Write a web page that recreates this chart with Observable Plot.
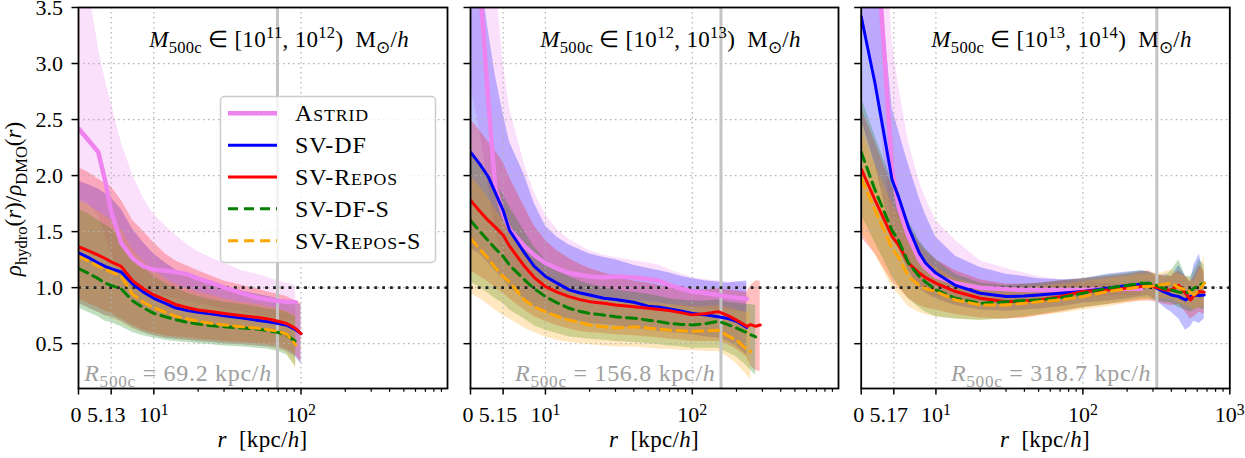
<!DOCTYPE html>
<html><head><meta charset="utf-8">
<script src="https://cdn.jsdelivr.net/npm/d3@7"></script>
<script src="https://cdn.jsdelivr.net/npm/@observablehq/plot@0.6"></script>
<style>
html,body{margin:0;padding:0;background:#fff;}
#wrap{position:relative;width:1245px;height:458px;overflow:hidden;background:#fff;font-family:'Liberation Serif',serif;}
#wrap svg{position:absolute;top:0;overflow:visible;font-family:'Liberation Serif',serif !important;}
#wrap svg text{font-family:'Liberation Serif',serif;}
</style></head><body><div id="wrap"></div>
<script>
// ---------------- data ----------------
const seriesNames = ["Astrid", "SV-DF", "SV-Repos", "SV-DF-S", "SV-Repos-S"];
const seriesColors = ["#ee82ee", "#0000ff", "#ff0000", "#008000", "#ffa500"];
const massExponents = [["11", "12"], ["12", "13"], ["13", "14"]];
const r500c = [69.2, 156.8, 318.7];
const linThresh = [5.13, 5.15, 5.17];
const xMax = [990, 990, 1000];
const yTicks = [0.5, 1.0, 1.5, 2.0, 2.5, 3.0, 3.5];
const xDecadeTicks = [10, 100, 1000];
const xDecadeExps = ["1", "2", "3"];
const xMinorTicks = [20, 30, 40, 50, 60, 70, 80, 90, 200, 300, 400, 500, 600, 700, 800, 900];

// panel 1: M500c in [1e11, 1e12)
const p1_r = [0, 1.5, 3.1, 4.2, 5.13, 6, 7.2, 8.5, 10, 12, 14, 17, 20, 25, 30, 40, 50, 60, 70, 80, 92, 100];
const p1_astrid    = [2.42, 2.32, 2.21, 1.95, 1.68, 1.40, 1.26, 1.19, 1.16, 1.15, 1.14, 1.12, 1.08, 1.04, 1.00, 0.95, 0.91, 0.895, 0.88, 0.875, 0.87, null];
const p1_astrid_lo = [1.80, 1.75, 1.65, 1.45, 1.30, 1.15, 1.02, 0.97, 0.94, 0.92, 0.90, 0.88, 0.86, 0.83, 0.81, 0.78, 0.76, 0.74, 0.72, 0.71, 0.70, null];
const p1_astrid_hi = [4.20, 3.70, 3.15, 2.85, 2.65, 2.30, 2.00, 1.80, 1.65, 1.55, 1.47, 1.38, 1.32, 1.26, 1.22, 1.15, 1.12, 1.09, 1.06, 1.04, 1.02, null];
const p1_df        = [1.31, 1.27, 1.22, 1.19, 1.17, 1.14, 1.03, 0.96, 0.905, 0.86, 0.82, 0.795, 0.78, 0.765, 0.75, 0.73, 0.71, 0.695, 0.68, 0.665, 0.625, 0.59];
const p1_df_lo     = [0.86, 0.82, 0.78, 0.75, 0.74, 0.70, 0.64, 0.60, 0.57, 0.55, 0.54, 0.53, 0.52, 0.51, 0.50, 0.49, 0.48, 0.47, 0.46, 0.43, 0.38, 0.32];
const p1_df_hi     = [1.95, 1.92, 1.88, 1.84, 1.80, 1.70, 1.52, 1.40, 1.30, 1.22, 1.16, 1.11, 1.08, 1.04, 1.01, 0.97, 0.94, 0.92, 0.90, 0.88, 0.86, 0.85];
const p1_repos     = [1.365, 1.33, 1.29, 1.26, 1.23, 1.19, 1.06, 0.99, 0.935, 0.89, 0.85, 0.82, 0.80, 0.785, 0.77, 0.75, 0.735, 0.72, 0.70, 0.68, 0.635, 0.59];
const p1_repos_lo  = [0.90, 0.86, 0.82, 0.79, 0.77, 0.72, 0.66, 0.62, 0.59, 0.57, 0.56, 0.55, 0.54, 0.53, 0.52, 0.51, 0.50, 0.49, 0.48, 0.45, 0.40, 0.33];
const p1_repos_hi  = [2.07, 2.03, 1.97, 1.93, 1.90, 1.78, 1.60, 1.50, 1.40, 1.30, 1.24, 1.19, 1.15, 1.10, 1.06, 1.02, 0.99, 0.96, 0.94, 0.92, 0.88, 0.86];
const p1_dfs       = [1.17, 1.13, 1.08, 1.04, 1.02, 0.99, 0.88, 0.82, 0.77, 0.74, 0.715, 0.69, 0.675, 0.66, 0.65, 0.64, 0.63, 0.615, 0.60, 0.575, 0.52, null];
const p1_dfs_lo    = [0.82, 0.78, 0.74, 0.70, 0.69, 0.65, 0.60, 0.57, 0.55, 0.53, 0.52, 0.51, 0.50, 0.49, 0.48, 0.47, 0.46, 0.45, 0.43, 0.40, 0.30, null];
const p1_dfs_hi    = [1.70, 1.66, 1.60, 1.56, 1.53, 1.45, 1.28, 1.18, 1.10, 1.04, 0.99, 0.95, 0.92, 0.89, 0.87, 0.85, 0.83, 0.81, 0.80, 0.78, 0.74, null];
const p1_reposs    = [1.28, 1.24, 1.19, 1.16, 1.14, 1.10, 0.94, 0.87, 0.82, 0.78, 0.745, 0.72, 0.70, 0.68, 0.667, 0.65, 0.64, 0.625, 0.61, 0.585, 0.49, null];
const p1_reposs_lo = [0.86, 0.82, 0.78, 0.75, 0.73, 0.69, 0.63, 0.60, 0.57, 0.55, 0.54, 0.53, 0.52, 0.51, 0.50, 0.49, 0.48, 0.47, 0.45, 0.42, 0.28, null];
const p1_reposs_hi = [1.78, 1.74, 1.68, 1.64, 1.60, 1.52, 1.34, 1.23, 1.15, 1.08, 1.03, 0.99, 0.96, 0.93, 0.90, 0.87, 0.85, 0.83, 0.81, 0.79, 0.75, null];

// panel 2: M500c in [1e12, 1e13)
const p2_r = [0, 1.5, 2.8, 3.9, 5.15, 5.7, 7.2, 8.4, 10, 12, 14.5, 17, 20, 25, 30, 40, 50, 60, 70, 85, 100, 125, 150, 175, 200, 235, 250, 270, 290];
const p2_astrid    = [4.5, 3.7, 2.67, 1.9, 1.66, 1.52, 1.37, 1.29, 1.22, 1.17, 1.13, 1.115, 1.10, 1.09, 1.10, 1.09, 1.075, 1.06, 1.02, 0.99, 0.965, 0.95, 0.935, 0.92, 0.91, 0.90, null, null, null];
const p2_astrid_lo = [2.8, 2.4, 1.9, 1.5, 1.3, 1.2, 1.08, 1.02, 0.98, 0.95, 0.93, 0.92, 0.91, 0.90, 0.90, 0.89, 0.88, 0.87, 0.85, 0.83, 0.82, 0.81, 0.80, 0.80, 0.79, 0.78, null, null, null];
const p2_astrid_hi = [5.0, 5.0, 4.5, 3.8, 3.0, 2.6, 2.1, 1.85, 1.65, 1.52, 1.43, 1.38, 1.33, 1.29, 1.27, 1.24, 1.22, 1.20, 1.16, 1.12, 1.09, 1.07, 1.06, 1.05, 1.05, 1.04, null, null, null];
const p2_df        = [2.21, 2.10, 1.99, 1.85, 1.69, 1.51, 1.31, 1.19, 1.10, 1.04, 0.98, 0.955, 0.935, 0.905, 0.895, 0.87, 0.835, 0.825, 0.81, 0.79, 0.77, 0.755, 0.74, 0.725, 0.70, 0.645, null, null, null];
const p2_df_lo     = [1.35, 1.30, 1.22, 1.15, 1.08, 1.00, 0.90, 0.83, 0.78, 0.74, 0.72, 0.70, 0.68, 0.67, 0.66, 0.64, 0.62, 0.61, 0.60, 0.59, 0.58, 0.56, 0.55, 0.52, 0.48, 0.40, null, null, null];
const p2_df_hi     = [4.2, 3.8, 3.3, 2.9, 2.55, 2.3, 2.0, 1.75, 1.55, 1.45, 1.38, 1.34, 1.30, 1.27, 1.25, 1.20, 1.17, 1.15, 1.13, 1.10, 1.08, 1.06, 1.05, 1.04, 1.05, 1.06, null, null, null];
const p2_repos     = [1.78, 1.68, 1.60, 1.54, 1.47, 1.37, 1.19, 1.09, 1.01, 0.96, 0.92, 0.895, 0.875, 0.86, 0.846, 0.83, 0.816, 0.805, 0.795, 0.775, 0.757, 0.77, 0.786, 0.75, 0.71, 0.655, 0.67, 0.655, 0.667];
const p2_repos_lo  = [1.15, 1.10, 1.05, 1.00, 0.95, 0.90, 0.80, 0.74, 0.70, 0.66, 0.63, 0.61, 0.60, 0.59, 0.58, 0.57, 0.56, 0.55, 0.54, 0.53, 0.52, 0.52, 0.52, 0.49, 0.45, 0.38, 0.30, 0.26, 0.25];
const p2_repos_hi  = [2.50, 2.40, 2.30, 2.22, 2.12, 1.98, 1.72, 1.55, 1.42, 1.33, 1.26, 1.21, 1.17, 1.13, 1.10, 1.06, 1.04, 1.02, 1.00, 0.99, 0.98, 0.98, 0.99, 0.98, 0.97, 0.96, 1.02, 1.06, 1.06];
const p2_dfs       = [1.60, 1.50, 1.42, 1.35, 1.28, 1.20, 1.07, 0.99, 0.92, 0.865, 0.816, 0.79, 0.77, 0.755, 0.74, 0.727, 0.71, 0.695, 0.68, 0.672, 0.667, 0.68, 0.70, 0.67, 0.64, 0.60, 0.58, 0.56, null];
const p2_dfs_lo    = [1.05, 1.00, 0.95, 0.90, 0.86, 0.80, 0.72, 0.66, 0.62, 0.59, 0.56, 0.55, 0.54, 0.53, 0.52, 0.51, 0.50, 0.49, 0.48, 0.47, 0.46, 0.46, 0.46, 0.42, 0.38, 0.30, 0.26, 0.22, null];
const p2_dfs_hi    = [2.20, 2.10, 2.00, 1.92, 1.83, 1.72, 1.50, 1.36, 1.25, 1.17, 1.10, 1.06, 1.03, 1.00, 0.98, 0.96, 0.94, 0.92, 0.90, 0.89, 0.88, 0.88, 0.89, 0.87, 0.86, 0.85, 0.85, 0.84, null];
const p2_reposs    = [1.44, 1.34, 1.26, 1.18, 1.10, 1.05, 0.89, 0.83, 0.786, 0.745, 0.71, 0.69, 0.667, 0.65, 0.64, 0.65, 0.64, 0.63, 0.62, 0.615, 0.61, 0.615, 0.62, 0.57, 0.53, 0.45, 0.43, null, null];
const p2_reposs_lo = [0.95, 0.90, 0.85, 0.80, 0.75, 0.72, 0.64, 0.60, 0.56, 0.53, 0.51, 0.50, 0.49, 0.48, 0.47, 0.47, 0.46, 0.45, 0.45, 0.44, 0.44, 0.43, 0.43, 0.38, 0.32, 0.22, 0.18, null, null];
const p2_reposs_hi = [2.00, 1.90, 1.80, 1.70, 1.60, 1.52, 1.32, 1.20, 1.10, 1.03, 0.97, 0.94, 0.91, 0.89, 0.88, 0.88, 0.87, 0.86, 0.85, 0.84, 0.83, 0.83, 0.84, 0.82, 0.80, 0.78, 0.78, null, null];

// panel 3: M500c in [1e13, 1e14)
const p3_r = [0, 2.2, 4.9, 5.57, 6.5, 7.7, 8.5, 10, 13.6, 20, 30, 40, 50, 70, 100, 147, 200, 250, 280, 318, 360, 400, 450, 500, 540, 570, 620, 670];
const p3_astrid    = [6.0, 4.3, 2.05, 1.72, 1.455, 1.25, 1.18, 1.10, 1.04, 1.00, 0.985, 0.98, 0.98, 0.98, 0.98, 0.985, 0.99, 0.99, null, null, null, null, null, null, null, null, null, null];
const p3_astrid_lo = [3.5, 2.9, 1.5, 1.35, 1.15, 1.02, 0.97, 0.93, 0.90, 0.88, 0.88, 0.88, 0.89, 0.90, 0.91, 0.92, 0.93, 0.93, null, null, null, null, null, null, null, null, null, null];
const p3_astrid_hi = [8.0, 6.0, 3.2, 2.8, 2.3, 1.95, 1.8, 1.6, 1.42, 1.24, 1.17, 1.13, 1.10, 1.07, 1.05, 1.04, 1.03, 1.03, null, null, null, null, null, null, null, null, null, null];
const p3_df        = [3.42, 2.82, 1.96, 1.81, 1.54, 1.31, 1.22, 1.13, 1.02, 0.95, 0.92, 0.925, 0.935, 0.95, 0.965, 0.995, 1.02, 1.03, 1.04, 0.995, 0.96, 0.935, 0.92, 0.89, 0.92, 0.935, 0.93, 0.935];
const p3_df_lo     = [2.5, 2.1, 1.45, 1.35, 1.15, 1.0, 0.95, 0.9, 0.84, 0.8, 0.79, 0.8, 0.81, 0.83, 0.86, 0.88, 0.9, 0.92, 0.93, 0.88, 0.82, 0.78, 0.72, 0.62, 0.65, 0.7, 0.68, 0.72];
const p3_df_hi     = [5.0, 4.2, 2.6, 2.4, 2.1, 1.8, 1.65, 1.45, 1.28, 1.18, 1.12, 1.10, 1.08, 1.07, 1.08, 1.12, 1.14, 1.15, 1.14, 1.10, 1.12, 1.10, 1.20, 1.10, 1.05, 1.20, 1.30, 1.10];
const p3_repos     = [2.06, 1.78, 1.455, 1.38, 1.22, 1.13, 1.09, 1.04, 0.965, 0.905, 0.875, 0.88, 0.89, 0.92, 0.965, 0.98, 0.995, 1.01, 1.02, 1.0, 0.98, 0.98, 1.02, 0.95, 0.89, 0.93, 0.965, 0.96];
const p3_repos_lo  = [1.45, 1.3, 1.05, 1.0, 0.9, 0.84, 0.82, 0.8, 0.76, 0.73, 0.72, 0.73, 0.75, 0.78, 0.82, 0.85, 0.87, 0.88, 0.88, 0.87, 0.85, 0.84, 0.85, 0.78, 0.72, 0.74, 0.78, 0.76];
const p3_repos_hi  = [2.6, 2.3, 1.9, 1.8, 1.55, 1.4, 1.33, 1.25, 1.15, 1.07, 1.03, 1.03, 1.04, 1.06, 1.08, 1.1, 1.12, 1.14, 1.15, 1.12, 1.1, 1.1, 1.15, 1.1, 1.05, 1.1, 1.2, 1.15];
const p3_dfs       = [2.21, 1.87, 1.51, 1.42, 1.22, 1.10, 1.05, 0.98, 0.905, 0.86, 0.875, 0.885, 0.89, 0.91, 0.95, 0.995, 1.02, 1.04, 1.04, 1.02, 0.99, 0.98, 0.96, 0.95, 0.97, 0.995, 1.02, 1.04];
const p3_dfs_lo    = [1.65, 1.4, 1.1, 1.02, 0.9, 0.82, 0.78, 0.74, 0.72, 0.71, 0.72, 0.74, 0.76, 0.79, 0.82, 0.85, 0.88, 0.9, 0.9, 0.88, 0.87, 0.86, 0.82, 0.8, 0.78, 0.8, 0.82, 0.8];
const p3_dfs_hi    = [2.7, 2.35, 1.95, 1.85, 1.6, 1.42, 1.35, 1.25, 1.12, 1.04, 1.02, 1.03, 1.04, 1.06, 1.08, 1.11, 1.13, 1.15, 1.14, 1.12, 1.1, 1.15, 1.25, 1.1, 1.1, 1.15, 1.25, 1.2];
const p3_reposs    = [1.975, 1.69, 1.35, 1.27, 1.10, 1.02, 0.99, 0.965, 0.89, 0.846, 0.846, 0.86, 0.875, 0.89, 0.92, 0.965, 0.99, 1.01, 1.01, 1.02, 1.03, 1.04, 1.0, 0.98, 0.96, 0.935, 0.98, 1.04];
const p3_reposs_lo = [1.5, 1.3, 1.0, 0.94, 0.83, 0.78, 0.76, 0.74, 0.72, 0.71, 0.72, 0.73, 0.75, 0.77, 0.8, 0.83, 0.86, 0.88, 0.89, 0.9, 0.9, 0.9, 0.86, 0.84, 0.82, 0.8, 0.82, 0.82];
const p3_reposs_hi = [2.4, 2.1, 1.75, 1.65, 1.42, 1.28, 1.24, 1.18, 1.08, 1.02, 1.0, 1.0, 1.01, 1.03, 1.05, 1.08, 1.1, 1.12, 1.12, 1.12, 1.14, 1.16, 1.12, 1.1, 1.08, 1.05, 1.15, 1.28];

// ---------------- assembly ----------------
const panels = [
  {r: p1_r, vals: [p1_astrid, p1_df, p1_repos, p1_dfs, p1_reposs],
   lo: [p1_astrid_lo, p1_df_lo, p1_repos_lo, p1_dfs_lo, p1_reposs_lo],
   hi: [p1_astrid_hi, p1_df_hi, p1_repos_hi, p1_dfs_hi, p1_reposs_hi]},
  {r: p2_r, vals: [p2_astrid, p2_df, p2_repos, p2_dfs, p2_reposs],
   lo: [p2_astrid_lo, p2_df_lo, p2_repos_lo, p2_dfs_lo, p2_reposs_lo],
   hi: [p2_astrid_hi, p2_df_hi, p2_repos_hi, p2_dfs_hi, p2_reposs_hi]},
  {r: p3_r, vals: [p3_astrid, p3_df, p3_repos, p3_dfs, p3_reposs],
   lo: [p3_astrid_lo, p3_df_lo, p3_repos_lo, p3_dfs_lo, p3_reposs_lo],
   hi: [p3_astrid_hi, p3_df_hi, p3_repos_hi, p3_dfs_hi, p3_reposs_hi]}
];

// layout (pixels)
const layouts = [
  {left: 0, width: 455, ml: 78, mr: 8},
  {left: 455, width: 390, ml: 15, mr: 7},
  {left: 845, width: 400, ml: 15.7, mr: 15.7}
];
const H = 458, MT = 7, MB = 70;
const lineWidths = [4.5, 3, 3, 3, 3];
const lineDash = [null, null, null, "10,6", "10,6"];
const FONT = "Liberation Serif";

// matplotlib-like symlog (linear below threshold, log10 above)
const LIN = 0.222;
function symT(r, c) { return r <= c ? LIN * r / c : LIN + Math.log10(r / c); }

function rich(sel, x, y, parts, opt) {
  const size = opt.size;
  const t = sel.append("text").attr("x", x).attr("y", y)
    .attr("text-anchor", opt.anchor || "start")
    .attr("font-family", FONT).attr("font-size", size)
    .attr("fill", opt.fill || "black")
    .style("white-space", "pre");
  if (opt.ls) t.attr("letter-spacing", opt.ls);
  if (opt.rotate) t.attr("transform", `rotate(${opt.rotate},${x},${y})`);
  let cur = 0;
  for (const [s, kind] of parts) {
    const target = kind === "sub" ? size * 0.26 : kind === "sup" ? -size * 0.40 : 0;
    const ts = t.append("tspan").text(s);
    if (target - cur !== 0) ts.attr("dy", target - cur);
    cur = target;
    if (kind === "sub" || kind === "sup") ts.attr("font-size", size * 0.72);
    if (kind === "sc") ts.attr("font-size", size * 0.74);
    if (kind === "it") ts.attr("font-style", "italic");
  }
  return t;
}
function smallCaps(name) {
  const parts = [];
  const re = /([a-z]+)|([^a-z]+)/g; let m;
  while ((m = re.exec(name))) parts.push(m[1] ? [m[1].toUpperCase(), "sc"] : [m[2], ""]);
  return parts;
}

const wrap = document.getElementById("wrap");
panels.forEach((p, k) => {
  const lay = layouts[k];
  const c = linThresh[k];
  const tx = r => symT(r, c);
  const major = [0, c, ...xDecadeTicks.filter(t => t <= xMax[k])];
  const majorLab = new Map(major.map(t => [tx(t), t === 0 ? "0" : t === c ? String(c) : "10^" + xDecadeExps[xDecadeTicks.indexOf(t)]]));
  const minor = xMinorTicks.filter(t => t < xMax[k]);
  const gridStyle = {stroke: "#b0b0b0", strokeOpacity: 1, strokeWidth: 1.2, strokeDasharray: "1.5,3.5"};

  const rows = seriesNames.map((name, s) => p.r.map((r, i) => ({r, v: p.vals[s][i], lo: p.lo[s][i], hi: p.hi[s][i]})));

  const marks = [];
  rows.forEach((rs, s) => marks.push(Plot.areaY(rs, {x: d => tx(d.r), y1: "lo", y2: "hi", fill: seriesColors[s], fillOpacity: 0.25, clip: true})));
  marks.push(Plot.gridX(major.filter(t => t > 0).map(tx), gridStyle));
  marks.push(Plot.gridY(yTicks.filter(t => t < 3.5), gridStyle));
  marks.push(Plot.ruleX([tx(r500c[k])], {stroke: "#c4c4c4", strokeWidth: 3}));
  marks.push(Plot.ruleY([1.0], {stroke: "#222", strokeWidth: 2.8, strokeDasharray: "2.8,5"}));
  rows.forEach((rs, s) => marks.push(Plot.line(rs, {x: d => tx(d.r), y: "v", stroke: seriesColors[s], strokeWidth: lineWidths[s], strokeDasharray: lineDash[s], clip: true})));
  marks.push(Plot.frame({stroke: "black", strokeWidth: 1.8}));
  marks.push(Plot.axisY(yTicks, {tickSize: 6.5, tickPadding: 9, fontSize: 22, fontFamily: FONT, strokeWidth: 1.5, label: null,
    tickFormat: k === 0 ? d3.format(".1f") : () => ""}));
  marks.push(Plot.axisX(major.map(tx), {tickSize: 6.5, tickPadding: 11, fontSize: 22, fontFamily: FONT, strokeWidth: 1.5, label: null,
    tickFormat: v => majorLab.get(v)}));
  marks.push(Plot.axisX(minor.map(tx), {tickSize: 3.8, strokeWidth: 1.2, label: null, tickFormat: () => ""}));

  const chart = Plot.plot({
    width: lay.width, height: H,
    marginLeft: lay.ml, marginRight: lay.mr, marginTop: MT, marginBottom: MB,
    style: {fontFamily: FONT, fontSize: "22px", background: "transparent", color: "black", overflow: "visible"},
    x: {type: "linear", domain: [0, tx(xMax[k])], axis: null},
    y: {type: "linear", domain: [0.1, 3.5], axis: null},
    marks
  });
  chart.style.left = lay.left + "px";
  chart.setAttribute("font-family", FONT);
  wrap.appendChild(chart);

  const svg = d3.select(chart);
  svg.selectAll("text").attr("font-family", FONT);
  const cLabel = String(c);
  svg.selectAll("text").each(function () {
    const s = this.textContent;
    const el = d3.select(this);
    if (s === "0") el.attr("dx", -2.5);
    else if (s === cLabel) el.attr("dx", -5);
    const m = /^10\^(\d)$/.exec(s);
    if (!m) return;
    el.text("");
    el.append("tspan").text("10");
    el.append("tspan").attr("dy", "-0.42em").attr("font-size", "0.72em").text(m[1]);
  });

  const sx = chart.scale("x");
  const fx0 = lay.ml, fx1 = lay.width - lay.mr, fw = fx1 - fx0;
  const px = r => sx && sx.apply ? sx.apply(tx(r)) : fx0 + fw * tx(r) / tx(xMax[k]);

  // panel title
  const [e1, e2] = massExponents[k];
  rich(svg, fx0 + fw * 0.545, 47, [["M", "it"], ["500c", "sub"], [" ∈ [10", ""], [e1, "sup"], [", 10", ""], [e2, "sup"],
    [")  M", ""], ["⊙", "sub"], ["/", ""], ["h", "it"]], {size: 23, anchor: "middle", ls: 0.3});
  // R500c annotation
  rich(svg, px(r500c[k]) - 5, 381, [["R", "it"], ["500c", "sub"], [" = " + r500c[k] + " kpc/", ""], ["h", "it"]],
    {size: 24, anchor: "end", fill: "#a0a0a0", ls: 0.7});
  // x label
  rich(svg, fx0 + fw / 2, 447, [["r", "it"], ["  [kpc/", ""], ["h", "it"], ["]", ""]], {size: 23, anchor: "middle", ls: 0.3});

  if (k === 0) {
    rich(svg, 21, 199, [["ρ", "it"], ["hydro", "sub"], ["(", ""], ["r", "it"], [")/", ""], ["ρ", "it"], ["DMO", "sub"], ["(", ""], ["r", "it"], [")", ""]],
      {size: 23, anchor: "middle", rotate: -90});
    const g = svg.append("g");
    g.append("rect").attr("x", 220.5).attr("y", 96.5).attr("width", 215).attr("height", 166).attr("rx", 4)
      .attr("fill", "white").attr("fill-opacity", 0.8).attr("stroke", "#cccccc").attr("stroke-width", 1.5);
    seriesNames.forEach((name, s) => {
      const yy = 113.3 + s * 31.85;
      g.append("line").attr("x1", 228).attr("x2", 277).attr("y1", yy).attr("y2", yy)
        .attr("stroke", seriesColors[s]).attr("stroke-width", lineWidths[s])
        .attr("stroke-dasharray", lineDash[s] || null);
      rich(g, 295, yy + 8, smallCaps(name), {size: 24, ls: 0.9});
    });
  }
});
</script></body></html>
